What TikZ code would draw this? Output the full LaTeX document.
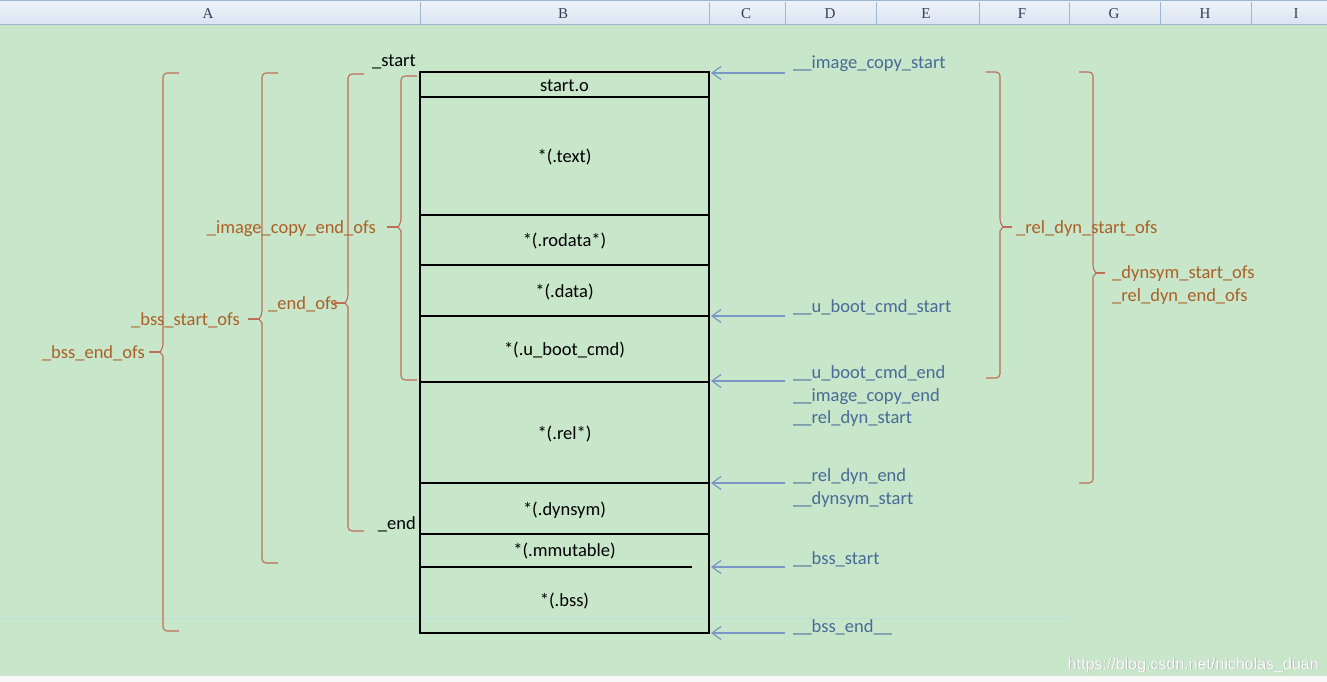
\documentclass[tikz,border=0pt]{standalone}
\usepackage{fontspec}
\setmainfont{Carlito}
\newfontfamily\hdrfont{Liberation Serif}
\newfontfamily\wmfont{Liberation Sans}
\usetikzlibrary{arrows.meta}
\definecolor{bg}{RGB}{199,230,202}
\definecolor{hdrtop}{RGB}{238,243,250}
\definecolor{hdrbot}{RGB}{218,228,240}
\definecolor{hdrline}{RGB}{158,182,207}
\definecolor{hdrtxt}{RGB}{50,62,85}
\definecolor{bracecol}{RGB}{190,110,88}
\definecolor{browntxt}{RGB}{172,96,38}
\definecolor{bluetxt}{RGB}{72,106,150}
\definecolor{arrowcol}{RGB}{122,150,196}
\definecolor{faint}{RGB}{182,225,218}
\tikzset{
  brace/.style={draw=bracecol, line width=1.1pt},
  rowline/.style={draw=black, line width=1.1pt},
  rowtxt/.style={font=\fontsize{18.5}{20}\selectfont, text=black, inner sep=0pt, anchor=base},
  blk/.style={font=\fontsize{18.5}{20}\selectfont, text=black, inner sep=0pt, anchor=base east},
  brn/.style={font=\fontsize{18.5}{20}\selectfont, text=browntxt, inner sep=0pt},
  blu/.style={font=\fontsize{18.5}{20}\selectfont, text=bluetxt, inner sep=0pt, anchor=base west},
  barrow/.style={draw=arrowcol, line width=1.2pt, -{Straight Barb[length=9pt,width=13pt]}, shorten >=2pt},
  hdr/.style={font=\hdrfont\fontsize{15}{16}\selectfont, text=hdrtxt, inner sep=0pt},
}
\newcommand\LBr[4]{%
  \draw[brace] (#1+16,#2) [rounded corners=4pt] -- (#1,#2) -- (#1,#3-4) [sharp corners] -- (#1-3,#3) -- (#1,#3+4) [rounded corners=4pt] -- (#1,#4) -- (#1+16,#4);
  \draw[brace] (#1-3,#3) -- (#1-14,#3);}
\newcommand\RBr[4]{%
  \draw[brace] (#1-14,#2) [rounded corners=4pt] -- (#1,#2) -- (#1,#3-4) [sharp corners] -- (#1+3,#3) -- (#1,#3+4) [rounded corners=4pt] -- (#1,#4) -- (#1-14,#4);
  \draw[brace] (#1+3,#3) -- (#1+12,#3);}
\begin{document}
\begin{tikzpicture}[x=1pt,y=-1pt]
\useasboundingbox (0,0) rectangle (1327,682);
\fill[bg] (0,0) rectangle (1327,682);
% spreadsheet header
\shade[top color=hdrtop,bottom color=hdrbot] (0,0) rectangle (1327,25);
\draw[hdrline, line width=1pt] (0,1) -- (1327,1);
\draw[hdrline, line width=1pt] (0,25) -- (1327,25);
\foreach \cx in {420,709,785,876,979,1069,1160,1251}
  \draw[hdrline, line width=0.8pt] (\cx,2) -- (\cx,25);
\node[hdr] (hA) at (208,14) {A};
\node[hdr] (hB) at (563,14) {B};
\node[hdr] (hC) at (746,14) {C};
\node[hdr] (hD) at (830,14) {D};
\node[hdr] (hE) at (926,14) {E};
\node[hdr] (hF) at (1022,14) {F};
\node[hdr] (hG) at (1114,14) {G};
\node[hdr] (hH) at (1205,14) {H};
\node[hdr] (hI) at (1296,14) {I};
% faint grid line and bottom strip
\draw[faint, line width=0.8pt] (0,618) -- (1068,618);
\fill[white!95!gray] (0,676) rectangle (1327,682);
% memory box
\node[draw=black, line width=1.2pt, minimum width=289pt, minimum height=561pt, inner sep=0pt, outer sep=0pt, anchor=north west] (mem) at (420,72) {};
\foreach \yy in {97,215,265,316,382,483,534}
  \draw[rowline] (mem.west |- 0,\yy) -- (mem.east |- 0,\yy);
\draw[rowline] (mem.west |- 0,567) -- (692,567);
\node[rowtxt] (r1) at (564.5,92) {start.o};
\node[rowtxt] (r2) at (564.5,162) {*(.text)};
\node[rowtxt] (r3) at (564.5,246) {*(.rodata*)};
\node[rowtxt] (r4) at (564.5,297) {*(.data)};
\node[rowtxt] (r5) at (564.5,355) {*(.u\_boot\_cmd)};
\node[rowtxt] (r6) at (564.5,439) {*(.rel*)};
\node[rowtxt] (r7) at (564.5,515) {*(.dynsym)};
\node[rowtxt] (r8) at (564.5,556) {*(.mmutable)};
\node[rowtxt] (r9) at (564.5,606) {*(.bss)};
% black labels
\node[blk] (lstart) at (416,67) {\_start};
\node[blk] (lend) at (416,529) {\_end};
% left braces
\LBr{163}{73}{352}{631}
\LBr{262}{73}{319}{563}
\LBr{348}{74}{303}{531}
\LBr{401}{76}{227}{380}
\node[brn, anchor=base east] (b1) at (145,358) {\_bss\_end\_ofs};
\node[brn, anchor=base east] (b2) at (240,325) {\_bss\_start\_ofs};
\node[brn, anchor=base west] (b3) at (268,309) {\_end\_ofs};
\node[brn, anchor=base east] (b4) at (376,233) {\_image\_copy\_end\_ofs};
% right braces
\RBr{1000}{72}{227}{378}
\RBr{1093}{72}{273}{483}
\node[brn, anchor=base west] (b5) at (1016,233) {\_rel\_dyn\_start\_ofs};
\node[brn, anchor=base west] (b6) at (1112,278) {\_dynsym\_start\_ofs};
\node[brn, anchor=base west] (b7) at (1112,301) {\_rel\_dyn\_end\_ofs};
% arrows and blue labels
\foreach \n/\yy in {1/73,2/316,3/381,4/483,5/567,6/633}{
  \coordinate (a\n) at (785,\yy);
  \draw[barrow] (a\n) -- (mem.east |- a\n);
}
\node[blu] (s1) at (793,69) {\_\_image\_copy\_start};
\node[blu] (s2) at (793,312) {\_\_u\_boot\_cmd\_start};
\node[blu] (s3) at (793,378) {\_\_u\_boot\_cmd\_end};
\node[blu] (s4) at (793,401) {\_\_image\_copy\_end};
\node[blu] (s5) at (793,423) {\_\_rel\_dyn\_start};
\node[blu] (s6) at (793,481) {\_\_rel\_dyn\_end};
\node[blu] (s7) at (793,504) {\_\_dynsym\_start};
\node[blu] (s8) at (793,564) {\_\_bss\_start};
\node[blu] (s9) at (793,632) {\_\_bss\_end\_\_};
% watermark
\node[font=\wmfont\fontsize{16}{18}\selectfont, text=gray!70, inner sep=0pt, anchor=base east] (wms) at (1319.6,669.6) {https://blog.csdn.net/nicholas\_duan};
\node[font=\wmfont\fontsize{16}{18}\selectfont, text=white, inner sep=0pt, anchor=base east] (wm) at (1319,669) {https://blog.csdn.net/nicholas\_duan};
\end{tikzpicture}
\end{document}
